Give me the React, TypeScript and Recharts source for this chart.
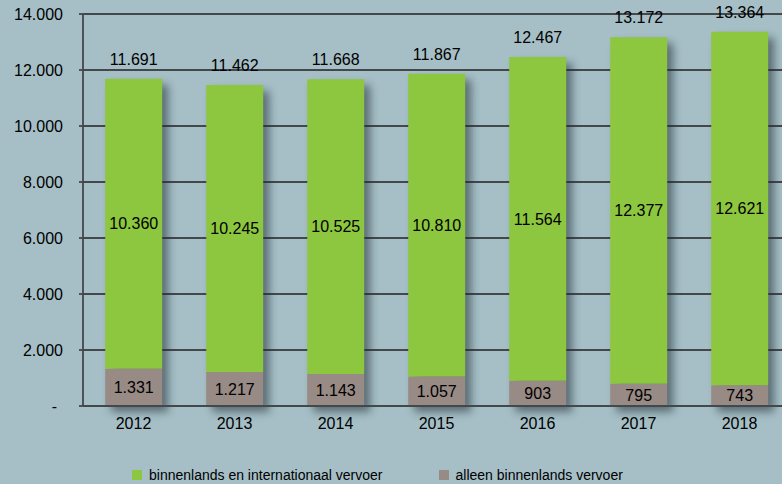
import React from 'react';
import { BarChart, Bar, XAxis, YAxis, CartesianGrid, LabelList } from 'recharts';

const years = ['2012', '2013', '2014', '2015', '2016', '2017', '2018'];
const domestic = [1331, 1217, 1143, 1057, 903, 795, 743];
const international = [10360, 10245, 10525, 10810, 11564, 12377, 12621];
const totals = [11691, 11462, 11668, 11867, 12467, 13172, 13364];
const yTicks = [0, 2000, 4000, 6000, 8000, 10000, 12000, 14000];
const legendItems = [
  { label: 'binnenlands en internationaal vervoer', color: '#8dc63f' },
  { label: 'alleen binnenlands vervoer', color: '#988a85' },
];

const rows = years.map((year, i) => ({
  year,
  domestic: domestic[i],
  intl: international[i],
  total: totals[i],
}));

const fmt = (n: any) => String(n).replace(/\B(?=(\d{3})+(?!\d))/g, '.');

const FONT = '"Liberation Sans", Arial, sans-serif';
const BG = '#a6bfc6';
const FS = 16;
const LINE = '#43484b';

const ShadowShape = (props: any) => {
  const { x, y, width, height, payload, fill } = props;
  const px = payload.domestic > 0 ? height / payload.domestic : 0;
  const totalH = payload.total * px;
  const top = y + height - totalH;
  return (
    <g>
      <rect
        x={x + 6}
        y={top + 6}
        width={width}
        height={totalH}
        fill="#1e2a30"
        opacity={0.55}
        filter="url(#barShadowBlur)"
      />
      <rect x={x} y={y} width={width} height={height} fill={fill} />
    </g>
  );
};

const YTick = (props: any) => {
  const { x, y, payload } = props;
  const v = payload.value;
  return (
    <text
      x={v === 0 ? x - 6 : x}
      y={y}
      dy={5.5}
      textAnchor="end"
      fontSize={FS}
      fontFamily={FONT}
      fill="#000"
    >
      {v === 0 ? '-' : fmt(v)}
    </text>
  );
};

export default function App() {
  return (
    <div style={{ position: 'fixed', left: 0, top: 0, width: 782, height: 484, overflow: 'hidden', background: BG }}>
      <svg width={0} height={0} style={{ position: 'absolute' }}>
        <defs>
          <filter id="barShadowBlur" x="-50%" y="-50%" width="200%" height="200%">
            <feGaussianBlur stdDeviation={4} />
          </filter>
        </defs>
      </svg>
      <BarChart
        width={800}
        height={484}
        data={rows}
        margin={{ top: 14, right: 10, bottom: 38, left: 0 }}
        barCategoryGap="22%"
        style={{ fontFamily: FONT }}
      >
        <CartesianGrid horizontal vertical={false} stroke={LINE} strokeWidth={1.8} />
        <XAxis
          dataKey="year"
          tickLine={false}
          axisLine={{ stroke: LINE, strokeWidth: 1.8 }}
          tick={{ fill: '#000', fontSize: FS, fontFamily: FONT }}
          tickMargin={6}
          height={40}
        />
        <YAxis
          domain={[0, 14000]}
          ticks={yTicks}
          width={83}
          interval={0}
          tickSize={4}
          tickMargin={16}
          tickLine={{ stroke: LINE, strokeWidth: 1.8 }}
          axisLine={{ stroke: LINE, strokeWidth: 1.8 }}
          tick={<YTick />}
        />
        <Bar dataKey="domestic" stackId="a" fill="#988a85" isAnimationActive={false} shape={<ShadowShape />}>
          <LabelList dataKey="domestic" position="center" formatter={fmt} fill="#000" fontSize={FS} fontFamily={FONT} />
        </Bar>
        <Bar dataKey="intl" stackId="a" fill="#8dc63f" isAnimationActive={false}>
          <LabelList dataKey="intl" position="center" formatter={fmt} fill="#000" fontSize={FS} fontFamily={FONT} />
          <LabelList dataKey="total" position="top" offset={14} formatter={fmt} fill="#000" fontSize={FS} fontFamily={FONT} />
        </Bar>
      </BarChart>
      <div
        style={{
          position: 'absolute',
          left: 132,
          top: 467,
          display: 'flex',
          alignItems: 'center',
          fontFamily: FONT,
          fontSize: 14,
          lineHeight: '16px',
          color: '#000',
          whiteSpace: 'nowrap',
        }}
      >
        {legendItems.map((it, i) => (
          <div key={it.label} style={{ display: 'flex', alignItems: 'center', marginRight: i === 0 ? 56 : 0 }}>
            <span style={{ display: 'inline-block', width: 10, height: 10, background: it.color, marginRight: 7 }} />
            <span>{it.label}</span>
          </div>
        ))}
      </div>
    </div>
  );
}
